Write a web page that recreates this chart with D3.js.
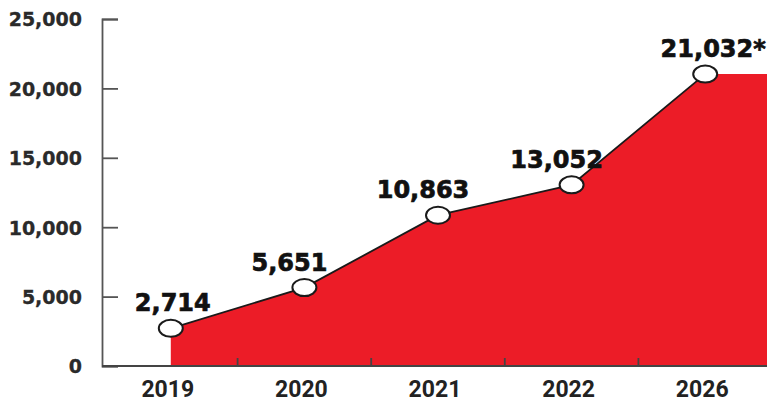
<!DOCTYPE html>
<html>
<head>
<meta charset="utf-8">
<script src="https://cdn.jsdelivr.net/npm/d3@7"></script>
<style>
  html, body { margin: 0; padding: 0; background: #fff; }
  svg { display: block; }
</style>
</head>
<body>
<svg id="chart" width="767" height="402"></svg>
<script>
// Yearly totals; the 2026 figure is a projection (marked with *)
const years = ["2019", "2020", "2021", "2022", "2026"];
const values = [2714, 5651, 10863, 13052, 21032];
const valueLabels = ["2,714", "5,651", "10,863", "13,052", "21,032*"];
const yTicks = [0, 5000, 10000, 15000, 20000, 25000];

const W = 767, H = 402;
const axisX = 102, baseY = 366, topY = 19;
const red = "#ec1c27";

const svg = d3.select("#chart");

const x = d3.scaleBand().domain(years).range([104, 772]).paddingInner(0).paddingOuter(0);
const y = d3.scaleLinear().domain([0, 25000]).range([baseY, topY]);
const cx = d => x(d) + x.bandwidth() / 2;

const pts = years.map((yr, i) => ({ yr, v: values[i], label: valueLabels[i], i }));

// Filled area under the line, carried flat to the right edge after the last year
const areaPts = pts.map(p => [cx(p.yr), y(p.v)]);
areaPts.push([W, y(values[values.length - 1])]);
const area = d3.area().x(d => d[0]).y0(baseY).y1(d => d[1]);
svg.append("path").attr("d", area(areaPts)).attr("fill", red);

// Connecting line between data points
const line = d3.line().x(d => cx(d.yr)).y(d => y(d.v));
svg.append("path").attr("d", line(pts))
  .attr("fill", "none").attr("stroke", "#1a1a1a").attr("stroke-width", 1.8);

// Y axis: ticks pointing inward
const yAxis = d3.axisLeft(y).tickValues(yTicks).tickSize(-16).tickPadding(20)
  .tickFormat(d3.format(","));
const gy = svg.append("g").attr("transform", `translate(${axisX},0)`).call(yAxis);
gy.select(".domain").attr("stroke", "#555").attr("stroke-width", 1.8);
gy.selectAll(".tick line").attr("stroke", "#555").attr("stroke-width", 1.8);
gy.selectAll(".tick text")
  .attr("font-family", "'DejaVu Sans', sans-serif")
  .attr("font-weight", "bold").attr("font-size", 19)
  .attr("fill", "#2a2a2a").attr("stroke", "#2a2a2a").attr("stroke-width", 0.3)
  .attr("dy", "0.36em");

// X axis baseline with small upward ticks at the category boundaries
svg.append("line").attr("x1", axisX).attr("x2", W).attr("y1", baseY).attr("y2", baseY)
  .attr("stroke", "#444").attr("stroke-width", 1.8);
svg.selectAll(".xb").data(years.slice(1)).join("line")
  .attr("x1", d => x(d)).attr("x2", d => x(d))
  .attr("y1", baseY).attr("y2", baseY - 8)
  .attr("stroke", "#444").attr("stroke-width", 1.8);
svg.selectAll(".xl").data(years).join("text")
  .attr("x", d => cx(d) - 3).attr("y", 397)
  .attr("text-anchor", "middle")
  .attr("font-family", "Roboto, sans-serif").attr("font-weight", 700)
  .attr("font-size", 23).attr("fill", "#222")
  .text(d => d);

// Point markers
svg.selectAll(".pt").data(pts).join("ellipse")
  .attr("cx", d => cx(d.yr)).attr("cy", d => y(d.v))
  .attr("rx", 12).attr("ry", 8.5)
  .attr("fill", "#fff").attr("stroke", "#1a1a1a").attr("stroke-width", 2);

// Value labels above each point
const last = pts.length - 1;
svg.selectAll(".vl").data(pts).join("text")
  .attr("x", d => cx(d.yr) + (d.i === 0 ? 2 : d.i === last ? 8 : -15))
  .attr("y", d => y(d.v) - 17)
  .attr("text-anchor", "middle")
  .attr("font-family", "'DejaVu Sans', sans-serif").attr("font-weight", "bold")
  .attr("font-size", 24).attr("fill", "#111")
  .attr("stroke", "#111").attr("stroke-width", 0.7)
  .text(d => d.label);
</script>
</body>
</html>
